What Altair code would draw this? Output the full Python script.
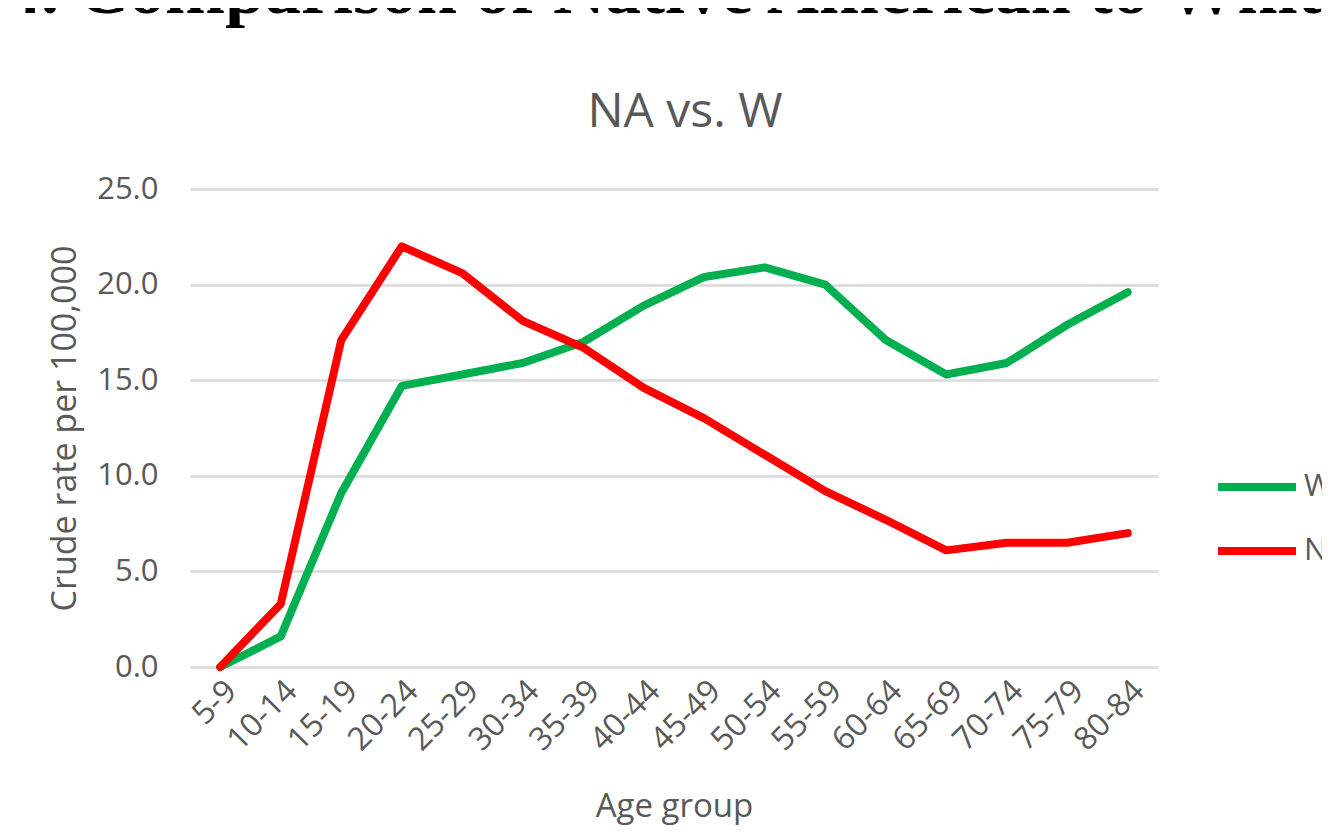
import altair as alt
import pandas as pd

ages = ["5-9", "10-14", "15-19", "20-24", "25-29", "30-34", "35-39", "40-44",
        "45-49", "50-54", "55-59", "60-64", "65-69", "70-74", "75-79", "80-84"]
w_rate = [0.0, 1.6, 9.1, 14.7, 15.3, 15.9, 17.0, 18.9, 20.4, 20.9, 20.0, 17.1, 15.3, 15.9, 17.9, 19.6]
na_rate = [0.0, 3.3, 17.1, 22.0, 20.6, 18.1, 16.7, 14.6, 13.0, 11.1, 9.2, 7.7, 6.1, 6.5, 6.5, 7.0]
series = ["W", "NA"]
colors = ["#00b050", "#ff0000"]
y_ticks = [0, 5, 10, 15, 20, 25]
chart_title = "NA vs. W"
page_heading = "4. Comparison of Native American to White"

rows = []
for s, vals in zip(series, [w_rate, na_rate]):
    for a, v in zip(ages, vals):
        rows.append({"age": a, "rate": v, "series": s, "order": series.index(s)})
df = pd.DataFrame(rows)

FONT = "Open Sans"
GREY = "#595959"

lines = alt.Chart(df).mark_line(strokeWidth=8, strokeCap="round", strokeJoin="round").encode(
    x=alt.X("age:N", sort=ages, scale=alt.Scale(padding=0.5),
            axis=alt.Axis(title="Age group", labelAngle=-45, labelFontSize=32, titleFontSize=33,
                          labelColor=GREY, titleColor=GREY, labelFont=FONT, titleFont=FONT,
                          titleFontWeight="normal", ticks=False, domain=False, grid=False,
                          labelPadding=8, titlePadding=35)),
    y=alt.Y("rate:Q", scale=alt.Scale(domain=[0, 25]),
            axis=alt.Axis(title="Crude rate per 100,000", values=y_ticks, format=".1f",
                          labelFontSize=31, titleFontSize=34, labelColor=GREY, titleColor=GREY,
                          labelFont=FONT, titleFont=FONT, titleFontWeight="normal",
                          ticks=False, domain=False, gridColor="#d9d9d9", gridWidth=2.5,
                          labelPadding=32, titlePadding=14)),
    color=alt.Color("series:N", scale=alt.Scale(domain=series, range=colors),
                    legend=alt.Legend(title=None, orient="none", legendX=1024, legendY=255,
                                      symbolType="stroke", symbolSize=6084, symbolStrokeWidth=8,
                                      labelFontSize=31, labelFont=FONT, labelColor=GREY,
                                      labelOffset=4, rowPadding=5)),
    order=alt.Order("order:Q"),
    detail="series:N",
)

title_df = pd.DataFrame({"t": [chart_title]})
title = alt.Chart(title_df).mark_text(
    font=FONT, fontSize=48, align="center", baseline="middle", color=GREY, clip=False
).encode(text="t:N", x=alt.value(495), y=alt.value(-76))

heading_df = pd.DataFrame({"t": [page_heading]})
heading = alt.Chart(heading_df).mark_text(
    font="Liberation Serif", fontWeight="bold", fontSize=72, align="left",
    baseline="alphabetic", color="black", clip=False
).encode(text="t:N", x=alt.value(-185), y=alt.value(-176))

chart = alt.layer(lines, title, heading).properties(
    width=968, height=478,
    autosize=alt.AutoSizeParams(type="none"),
    padding={"left": 182, "top": 181, "right": 164, "bottom": 163},
).configure_view(stroke=None)

chart.save("out.html", embed_options={"renderer": "svg", "actions": False})
